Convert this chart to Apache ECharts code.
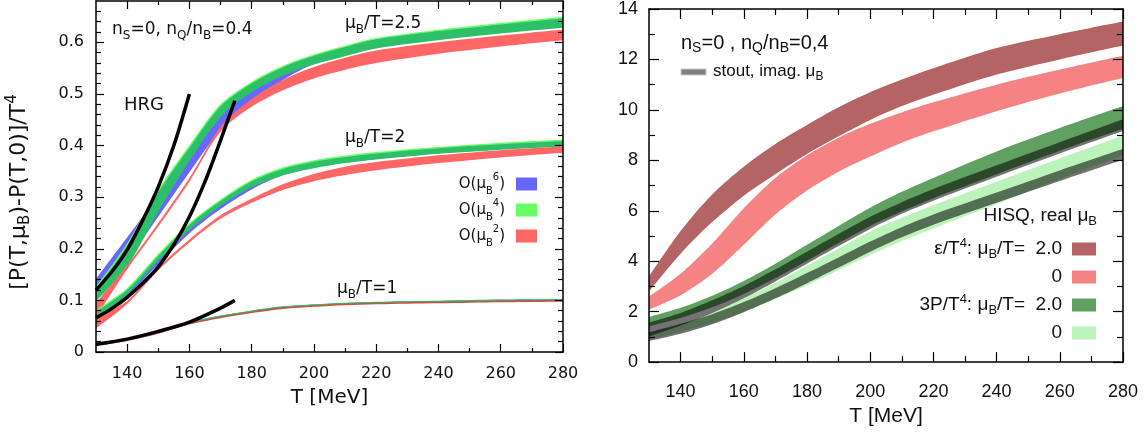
<!DOCTYPE html>
<html lang="en">
<head>
<meta charset="UTF-8" />
<title>EoS at finite baryon chemical potential</title>
<style>
  body { margin: 0; overflow: hidden; background: #fff; }
  #chart { width: 1148px; height: 432px; }
</style>
<script src="https://cdn.jsdelivr.net/npm/echarts@6/dist/echarts.min.js"></script>
</head>
<body>
<div id="chart"></div>
<script>
// temperatures [MeV] at which every band is sampled
var T = [130, 140, 150, 160, 170, 180, 190, 200, 210, 220, 240, 260, 280];

// ---- left panel: [P(T,muB)-P(T,0)]/T^4, lower / upper edge of each band ----
// muB/T = 2.5
var mu25_o6_lo = [0.114, 0.178, 0.262, 0.348, 0.430, 0.484, 0.527, 0.558, 0.575, 0.590, 0.606, 0.619, 0.630];
var mu25_o6_hi = [0.142, 0.222, 0.302, 0.388, 0.466, 0.510, 0.548, 0.572, 0.590, 0.605, 0.621, 0.634, 0.645];
var mu25_o4_lo = [0.098, 0.165, 0.272, 0.370, 0.455, 0.503, 0.535, 0.557, 0.573, 0.588, 0.604, 0.617, 0.628];
var mu25_o4_hi = [0.125, 0.208, 0.312, 0.398, 0.478, 0.522, 0.553, 0.575, 0.592, 0.607, 0.623, 0.636, 0.648];
var mu25_o2_lo = [0.068, 0.160, 0.243, 0.330, 0.427, 0.475, 0.507, 0.530, 0.547, 0.560, 0.578, 0.592, 0.604];
var mu25_o2_hi = [0.095, 0.168, 0.250, 0.337, 0.436, 0.490, 0.527, 0.552, 0.570, 0.584, 0.600, 0.613, 0.625];
// muB/T = 2
var mu2_o6_lo = [0.058, 0.108, 0.170, 0.230, 0.277, 0.315, 0.343, 0.357, 0.367, 0.374, 0.385, 0.393, 0.399];
var mu2_o6_hi = [0.080, 0.120, 0.184, 0.244, 0.290, 0.330, 0.355, 0.369, 0.378, 0.385, 0.395, 0.403, 0.409];
var mu2_o4_lo = [0.058, 0.112, 0.177, 0.237, 0.283, 0.319, 0.342, 0.356, 0.366, 0.373, 0.384, 0.392, 0.398];
var mu2_o4_hi = [0.080, 0.122, 0.188, 0.248, 0.294, 0.332, 0.356, 0.370, 0.379, 0.386, 0.396, 0.404, 0.410];
var mu2_o2_lo = [0.046, 0.093, 0.158, 0.212, 0.258, 0.289, 0.314, 0.331, 0.343, 0.352, 0.366, 0.377, 0.386];
var mu2_o2_hi = [0.068, 0.099, 0.164, 0.218, 0.265, 0.297, 0.325, 0.345, 0.359, 0.368, 0.381, 0.391, 0.398];
// muB/T = 1
var mu1_o6_lo = [0.013, 0.023, 0.037, 0.055, 0.067, 0.077, 0.085, 0.089, 0.092, 0.094, 0.096, 0.098, 0.099];
var mu1_o6_hi = [0.016, 0.026, 0.040, 0.058, 0.070, 0.080, 0.088, 0.092, 0.095, 0.097, 0.099, 0.101, 0.102];
var mu1_o4_lo = [0.0135, 0.0235, 0.0375, 0.0555, 0.0675, 0.0775, 0.0855, 0.0895, 0.0925, 0.0945, 0.0965, 0.0985, 0.0995];
var mu1_o4_hi = [0.0165, 0.0265, 0.0405, 0.0585, 0.0705, 0.0805, 0.0885, 0.0925, 0.0955, 0.0975, 0.0995, 0.1015, 0.1025];
var mu1_o2_lo = [0.0115, 0.0215, 0.0355, 0.0535, 0.0655, 0.0755, 0.0835, 0.0875, 0.0905, 0.0925, 0.0945, 0.0965, 0.0975];
var mu1_o2_hi = [0.0145, 0.0245, 0.0385, 0.0565, 0.0685, 0.0785, 0.0865, 0.0905, 0.0935, 0.0955, 0.0975, 0.0995, 0.1005];

// HRG curves
var hrgT25 = [130, 135, 140, 145, 150, 155, 160];
var hrg25 = [0.120, 0.155, 0.198, 0.255, 0.320, 0.400, 0.500];
var hrgT2 = [130, 135, 140, 145, 150, 155, 160, 165, 170, 174.6];
var hrg2 = [0.066, 0.084, 0.106, 0.133, 0.165, 0.208, 0.262, 0.330, 0.410, 0.487];
var hrgT1 = [130, 140, 150, 160, 170, 174.6];
var hrg1 = [0.015, 0.025, 0.040, 0.058, 0.085, 0.100];

// ---- right panel: eps/T^4 and 3P/T^4 ----
var eps2_lo = [2.80, 4.30, 5.55, 6.60, 7.45, 8.25, 8.95, 9.60, 10.15, 10.60, 11.40, 12.00, 12.55];
var eps2_hi = [3.40, 5.20, 6.65, 7.75, 8.65, 9.40, 10.10, 10.70, 11.20, 11.65, 12.45, 13.00, 13.50];
var eps0_lo = [2.08, 2.65, 3.50, 4.65, 5.85, 6.80, 7.55, 8.15, 8.70, 9.15, 9.95, 10.65, 11.26];
var eps0_hi = [2.60, 3.50, 4.70, 6.10, 7.30, 8.20, 8.90, 9.45, 9.90, 10.30, 11.00, 11.60, 12.15];
var p2_lo = [1.42, 1.75, 2.17, 2.70, 3.33, 4.02, 4.72, 5.40, 5.98, 6.50, 7.45, 8.38, 9.25];
var p2_hi = [1.78, 2.15, 2.63, 3.22, 3.90, 4.65, 5.40, 6.12, 6.75, 7.30, 8.35, 9.28, 10.15];
var p0_lo = [0.90, 1.20, 1.55, 2.00, 2.50, 3.05, 3.65, 4.25, 4.80, 5.30, 6.27, 7.25, 8.20];
var p0_hi = [1.15, 1.50, 1.98, 2.53, 3.15, 3.82, 4.50, 5.18, 5.72, 6.22, 7.15, 8.07, 8.97];
// stout, imaginary muB (drawn over the HISQ bands)
var stout2_lo = [1.02, 1.45, 1.95, 2.53, 3.20, 3.90, 4.60, 5.28, 5.88, 6.40, 7.35, 8.27, 9.16];
var stout2_hi = [1.57, 1.95, 2.45, 3.02, 3.68, 4.38, 5.08, 5.76, 6.34, 6.86, 7.80, 8.72, 9.63];
var stout0_lo = [0.83, 1.12, 1.50, 1.98, 2.53, 3.13, 3.75, 4.38, 4.95, 5.45, 6.32, 7.18, 8.02];
var stout0_hi = [1.18, 1.52, 1.90, 2.38, 2.93, 3.53, 4.15, 4.78, 5.35, 5.85, 6.72, 7.60, 8.46];

// tick positions
var xMajor = [140, 160, 180, 200, 220, 240, 260, 280];
var xMinor = [150, 170, 190, 210, 230, 250, 270];
var yLeftMajor = [0, 0.1, 0.2, 0.3, 0.4, 0.5, 0.6];
var yLeftMinor = [0.02, 0.04, 0.06, 0.08, 0.12, 0.14, 0.16, 0.18, 0.22, 0.24, 0.26, 0.28, 0.32, 0.34, 0.36, 0.38,
                  0.42, 0.44, 0.46, 0.48, 0.52, 0.54, 0.56, 0.58, 0.62, 0.64, 0.66];
var yRightMajor = [0, 2, 4, 6, 8, 10, 12, 14];
var yRightMinor = [1, 3, 5, 7, 9, 11, 13];

var INK = '#111';
var DJ = 'DejaVu Sans';
var LS = 'Liberation Sans';

// [value, T] rows, value first so that the stack works on y
function rows(xs, ys) {
  return xs.map(function (x, i) { return [ys[i], x]; });
}

// rich styles for sub/superscripts
function rich(size, family, ec) {
  var s = Math.round(size * 0.68);
  var colorKey = ec ? 'color' : 'fill';
  var sub = { fontSize: s, fontFamily: family, verticalAlign: 'bottom', lineHeight: 12 };
  var sup = { fontSize: s, fontFamily: family, verticalAlign: 'top', lineHeight: 12 };
  sub[colorKey] = INK; sup[colorKey] = INK;
  return { sub: sub, sup: sup };
}

// a band = invisible lower series + stacked width with area
function band(ax, id, lo, hi, color, name, edge) {
  var common = {
    type: 'line', xAxisIndex: ax, yAxisIndex: ax, stack: id, symbol: 'none',
    encode: { x: 1, y: 0 },
    smooth: 0.3, silent: true, emphasis: { disabled: true }
  };
  var base = Object.assign({}, common, { data: rows(T, lo), lineStyle: { opacity: 0 } });
  var top = Object.assign({}, common, {
    name: name,
    data: rows(T, hi.map(function (h, i) { return +(h - lo[i]).toFixed(4); })),
    itemStyle: { color: color },
    lineStyle: edge ? { color: edge, width: 1.4 } : { opacity: 0 },
    areaStyle: { color: color, opacity: 1 }
  });
  return [base, top];
}

function hrgLine(xs, ys) {
  return {
    type: 'line', xAxisIndex: 0, yAxisIndex: 0, data: rows(xs, ys), encode: { x: 1, y: 0 },
    symbol: 'none', smooth: 0.3, silent: true, lineStyle: { color: '#000', width: 3.5 }, z: 5
  };
}

// four axes per side: main + minor ticks, mirrored on the opposite side
function axes(dim, grid, min, max, majors, minors, majLen, minLen, label, name) {
  var line = { show: true, onZero: false, lineStyle: { color: '#000', width: 1.5 } };
  var noLine = { show: false, onZero: false };
  var tick = function (vals, len) {
    return { show: true, inside: true, length: len, customValues: vals, lineStyle: { color: '#000', width: 1.2 } };
  };
  var pos = dim === 'x' ? ['bottom', 'top'] : ['left', 'right'];
  var base = { type: 'value', gridIndex: grid, min: min, max: max, splitLine: { show: false }, z: 20 };
  var main = Object.assign({}, base, {
    position: pos[0], axisLine: line, axisTick: tick(majors, majLen),
    axisLabel: Object.assign({ customValues: majors, color: INK }, label)
  }, name || {});
  return [
    main,
    Object.assign({}, base, { position: pos[0], axisLine: noLine, axisTick: tick(minors, minLen), axisLabel: { show: false } }),
    Object.assign({}, base, { position: pos[1], axisLine: line, axisTick: tick(majors, majLen), axisLabel: { show: false } }),
    Object.assign({}, base, { position: pos[1], axisLine: noLine, axisTick: tick(minors, minLen), axisLabel: { show: false } })
  ];
}

function txt(x, y, text, size, family, align, lh) {
  return {
    type: 'text', x: x, y: y, silent: true, z: 100,
    style: {
      text: text, fontSize: size, fontFamily: family, fill: INK,
      align: align || 'left', textAlign: align || 'left',
      verticalAlign: 'middle', textVerticalAlign: 'middle',
      lineHeight: lh || 24, rich: rich(size, family, false)
    }
  };
}

var series = [].concat(
  // left: O(muB^6) first, then O(muB^4), then O(muB^2)
  band(0, 'b25', mu25_o6_lo, mu25_o6_hi, '#6868ff', 'O6'),
  band(0, 'b2', mu2_o6_lo, mu2_o6_hi, '#6868ff', 'O6'),
  band(0, 'b1', mu1_o6_lo, mu1_o6_hi, '#6868ff', 'O6'),
  band(0, 'g25', mu25_o4_lo, mu25_o4_hi, '#2ec068', 'O4', '#66ff66'),
  band(0, 'g2', mu2_o4_lo, mu2_o4_hi, '#2ec068', 'O4', '#66ff66'),
  band(0, 'g1', mu1_o4_lo, mu1_o4_hi, '#2ec068', 'O4'),
  band(0, 'r25', mu25_o2_lo, mu25_o2_hi, '#ff6666', 'O2'),
  band(0, 'r2', mu2_o2_lo, mu2_o2_hi, '#ff6666', 'O2'),
  band(0, 'r1', mu1_o2_lo, mu1_o2_hi, '#c9523e', 'O2'),
  [hrgLine(hrgT25, hrg25), hrgLine(hrgT2, hrg2), hrgLine(hrgT1, hrg1)],
  // right panel
  band(4, 'e2', eps2_lo, eps2_hi, '#b46464', 'e2'),
  band(4, 'e0', eps0_lo, eps0_hi, '#f58383', 'e0'),
  band(4, 'p2', p2_lo, p2_hi, '#60a060', 'p2'),
  band(4, 'p0', p0_lo, p0_hi, '#bbf3bb', 'p0'),
  band(4, 's0', stout0_lo, stout0_hi, 'rgba(0,0,0,0.55)', 'stout'),
  band(4, 's2', stout2_lo, stout2_hi, 'rgba(0,0,0,0.55)', 'stout')
);

var leftNames = { O6: '6', O4: '4', O2: '2' };
var rightNames = {
  e2: '\u03b5/T{sup|4}: \u03bc{sub|B}/T=  2.0',
  e0: '0',
  p2: '3P/T{sup|4}: \u03bc{sub|B}/T=  2.0',
  p0: '0'
};

// rotated y title of the left panel
var yTitle = txt(19, 192, '[P(T,\u03bc{sub|B})-P(T,0)]/T{sup|4}', 22, DJ, 'center', 28);
yTitle.rotation = Math.PI / 2;

var option = {
  animation: false,
  backgroundColor: '#fff',
  tooltip: { show: false },
  grid: [
    { left: 96, top: 1, width: 467, height: 351 },
    { left: 649, top: 7, width: 474, height: 356 }
  ],
  xAxis: [].concat(
    axes('x', 0, 130, 280, xMajor, xMinor, 8, 4,
      { fontSize: 16, fontFamily: DJ, margin: 14 },
      { name: 'T [MeV]', nameLocation: 'middle', nameGap: 36,
        nameTextStyle: { fontSize: 20, fontFamily: DJ, color: INK } }),
    axes('x', 1, 130, 280, xMajor, xMinor, 10, 6,
      { fontSize: 18, fontFamily: LS, margin: 21 },
      { name: 'T [MeV]', nameLocation: 'middle', nameGap: 30,
        nameTextStyle: { fontSize: 21, fontFamily: LS, color: INK } })
  ),
  yAxis: [].concat(
    axes('y', 0, 0, 0.68, yLeftMajor, yLeftMinor, 8, 5,
      { fontSize: 16, fontFamily: DJ, margin: 12 }),
    axes('y', 1, 0, 14, yRightMajor, yRightMinor, 10, 6,
      { fontSize: 18, fontFamily: LS, margin: 11 })
  ),
  legend: [
    {
      data: [
        { name: 'O6', itemStyle: { color: '#6666ff' } },
        { name: 'O4', itemStyle: { color: '#66ff66' } },
        { name: 'O2', itemStyle: { color: '#ff6666' } }
      ],
      orient: 'vertical', align: 'right', right: 611, top: 172, padding: 0, z: 50,
      icon: 'rect', itemWidth: 21, itemHeight: 13, itemGap: 2, selectedMode: false,
      formatter: function (n) { return 'O(\u03bc{sub|B}{sup|' + leftNames[n] + '})'; },
      textStyle: { fontSize: 15, fontFamily: DJ, color: INK, lineHeight: 24, padding: [0, 6, 0, 0], rich: rich(15, DJ, true) }
    },
    {
      data: [
        { name: 'e2', itemStyle: { color: '#b46464' } },
        { name: 'e0', itemStyle: { color: '#f58383' } },
        { name: 'p2', itemStyle: { color: '#60a060' } },
        { name: 'p0', itemStyle: { color: '#bbf3bb' } }
      ],
      orient: 'vertical', align: 'right', right: 52, top: 237, padding: 0, z: 50,
      icon: 'rect', itemWidth: 24, itemHeight: 13, itemGap: 4, selectedMode: false,
      formatter: function (n) { return rightNames[n]; },
      textStyle: { fontSize: 19, fontFamily: LS, color: INK, lineHeight: 24, padding: [0, 5, 0, 0], rich: rich(19, LS, true) }
    }
  ],
  graphic: [
    yTitle,
    txt(112, 30, 'n{sub|S}=0, n{sub|Q}/n{sub|B}=0.4', 17, DJ),
    txt(345, 24, '\u03bc{sub|B}/T=2.5', 17, DJ),
    txt(345, 138, '\u03bc{sub|B}/T=2', 17, DJ),
    txt(337, 289, '\u03bc{sub|B}/T=1', 17, DJ),
    txt(124, 105, 'HRG', 18, DJ),
    txt(681, 43, 'n{sub|S}=0 , n{sub|Q}/n{sub|B}=0,4', 20, LS),
    {
      type: 'rect', silent: true, z: 100, shape: { x: 681, y: 69, width: 25, height: 6 },
      style: { fill: '#808080', stroke: '#c8c8c8', lineWidth: 1 }
    },
    txt(713, 71, 'stout, imag. \u03bc{sub|B}', 17, LS),
    txt(1097, 216, 'HISQ, real \u03bc{sub|B}', 19, LS, 'right')
  ],
  series: series
};

var chart = echarts.init(document.getElementById('chart'));
chart.setOption(option);
</script>
</body>
</html>
